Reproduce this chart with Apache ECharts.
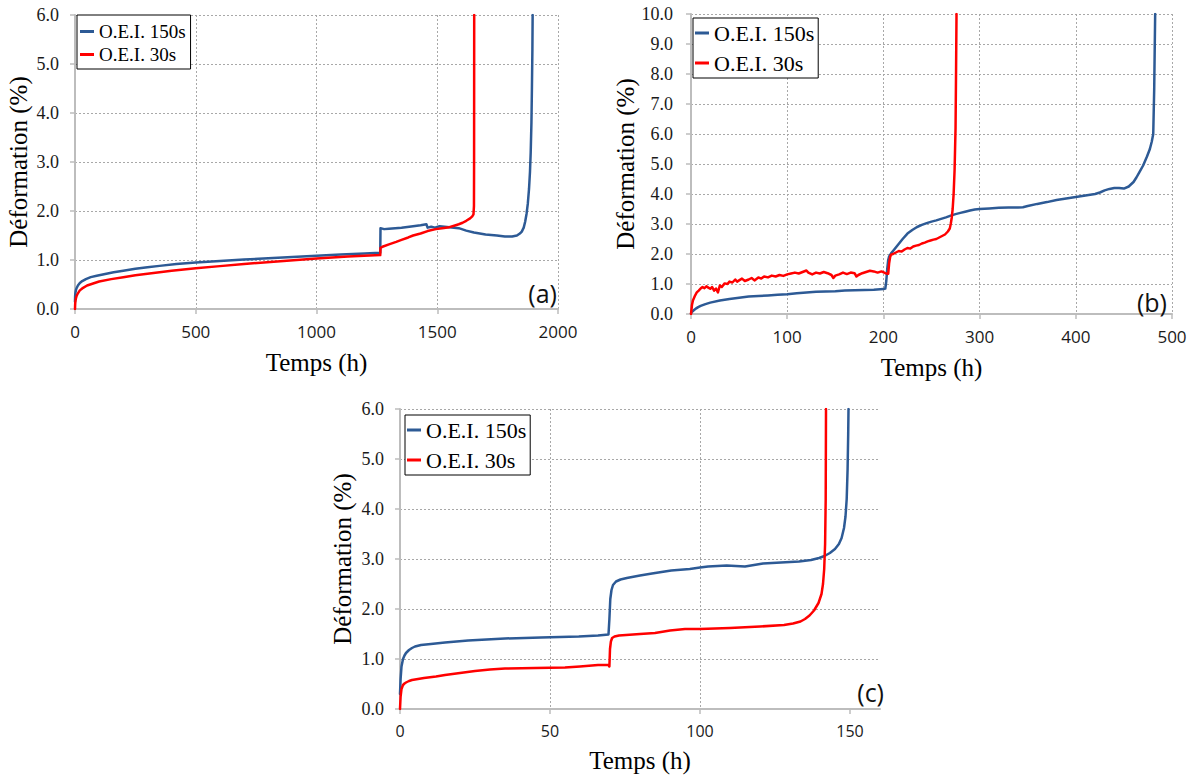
<!DOCTYPE html>
<html>
<head>
<meta charset="utf-8">
<script src="https://cdn.jsdelivr.net/npm/echarts@6/dist/echarts.min.js"></script>
<style>html,body{margin:0;padding:0;background:#fff;}#c{width:1193px;height:776px;}</style>
</head>
<body>
<div id="c"></div>
<script>
// ---------- DATA ----------
var seriesNames = ['O.E.I. 150s', 'O.E.I. 30s'];
var panelLabels = ['(a)', '(b)', '(c)'];
var xTitle = 'Temps (h)';
var yTitle = 'Déformation (%)';

// (a) [time h, strain %]
var aBlue = [[0,0.15],[0.5,0.25],[1,0.3],[2,0.34],[4,0.39],[7,0.43],[12,0.48],[20,0.53],[30,0.57],[45,0.61],[65,0.65],[90,0.68],[120,0.71],[160,0.75],[200,0.78],[250,0.82],[300,0.85],[350,0.88],[420,0.92],[500,0.95],[600,0.98],[700,1.01],[800,1.035],[900,1.06],[1000,1.085],[1100,1.11],[1200,1.135],[1264,1.15],
  [1265,1.65],[1280,1.63],[1300,1.64],[1352,1.66],[1400,1.69],[1431,1.71],[1455,1.73],[1460,1.66],[1475,1.68],[1490,1.66],[1510,1.69],[1550,1.67],[1589,1.65],[1620,1.6],[1652,1.56],[1700,1.52],[1747,1.5],[1780,1.48],[1810,1.48],[1830,1.5],[1842,1.54],[1850,1.58],[1858,1.66],[1864,1.78],[1870,1.95],[1875,2.15],[1880,2.45],[1884,2.8],[1887,3.2],[1890,3.8],[1892,4.5],[1894,5.3],[1895,6.0]];
var aRed = [[0,0],[0.5,0.08],[1,0.12],[2,0.17],[4,0.22],[7,0.27],[12,0.32],[20,0.38],[30,0.42],[50,0.48],[75,0.52],[100,0.56],[150,0.61],[200,0.65],[250,0.69],[300,0.72],[400,0.78],[500,0.83],[600,0.875],[700,0.92],[850,0.975],[1000,1.03],[1130,1.07],[1264,1.1],
  [1265,1.25],[1273,1.27],[1300,1.32],[1330,1.37],[1352,1.41],[1380,1.46],[1400,1.5],[1431,1.54],[1460,1.59],[1494,1.63],[1520,1.65],[1550,1.67],[1570,1.7],[1589,1.73],[1605,1.76],[1620,1.8],[1636,1.85],[1645,1.89],[1650,1.93],[1652,2.1],[1652.5,3.0],[1653,6.0]];

// (b)
var bBlue = [[0,0.02],[1,0.07],[2,0.1],[3.5,0.14],[5,0.18],[7.5,0.23],[10,0.27],[15,0.33],[20,0.38],[30,0.45],[40,0.5],[50,0.54],[60,0.58],[70,0.6],[80,0.62],[90,0.64],[100,0.66],[110,0.69],[120,0.72],[130,0.74],[140,0.75],[150,0.76],[160,0.78],[170,0.79],[180,0.8],[190,0.81],[200,0.83],[202,0.85],
  [203,1.1],[204,1.5],[205,1.8],[206,1.92],[208,2.02],[210,2.1],[215,2.3],[220,2.5],[225,2.68],[230,2.8],[235,2.9],[240,2.97],[245,3.03],[250,3.08],[255,3.12],[260,3.17],[265,3.22],[270,3.28],[275,3.33],[280,3.37],[285,3.41],[290,3.45],[295,3.48],[300,3.5],[310,3.52],[320,3.54],[330,3.55],[340,3.55],[345,3.56],[350,3.6],[360,3.67],[370,3.73],[380,3.8],[390,3.85],[400,3.9],[410,3.95],[420,4.0],[425,4.05],[430,4.12],[435,4.17],[440,4.2],[445,4.2],[450,4.18],[455,4.25],[460,4.4],[463,4.55],[466,4.72],[470,4.95],[474,5.25],[477,5.5],[479,5.75],[480.5,6.0],[481.5,7.5],[482.5,10]];
var bRed = [[0,0],[1,0.3],[2,0.45],[4,0.6],[6,0.72],[8,0.78],[10,0.85],[12,0.9],[14,0.86],[16,0.92],[18,0.88],[20,0.84],[22,0.9],[24,0.78],[26,0.85],[28,0.72],[30,0.95],[32,0.9],[35,1.02],[38,1.0],[40,1.08],[43,1.05],[46,1.15],[48,1.08],[50,1.12],[53,1.18],[56,1.1],[60,1.15],[63,1.2],[66,1.12],[70,1.22],[73,1.18],[76,1.25],[80,1.22],[84,1.28],[88,1.25],[92,1.3],[96,1.27],[100,1.32],[104,1.35],[108,1.38],[112,1.35],[116,1.4],[120,1.45],[122,1.38],[126,1.32],[130,1.38],[134,1.35],[138,1.4],[142,1.36],[146,1.3],[148,1.2],[150,1.28],[154,1.32],[158,1.38],[162,1.33],[166,1.38],[170,1.36],[172,1.25],[174,1.3],[178,1.36],[182,1.4],[186,1.44],[190,1.42],[194,1.38],[198,1.42],[202,1.36],[205,1.34],
  [206,1.7],[207,1.9],[208,1.98],[210,2.0],[213,2.05],[216,2.1],[219,2.08],[222,2.15],[225,2.2],[228,2.18],[231,2.25],[234,2.28],[237,2.3],[240,2.35],[243,2.38],[246,2.42],[249,2.45],[252,2.48],[255,2.5],[258,2.55],[261,2.6],[264,2.65],[267,2.75],[269,2.85],[270,3.0],[271,3.2],[272,3.5],[273,4.0],[274,4.8],[274.5,5.5],[275,6.2],[275.5,8],[276,10]];

// (c)
var cBlue = [[0,0.3],[0.2,0.6],[0.5,0.85],[1,1.0],[1.5,1.07],[2,1.12],[3,1.18],[4,1.22],[5,1.25],[7,1.28],[10.3,1.3],[15,1.33],[22.7,1.37],[35,1.41],[47,1.43],[59.6,1.45],[66,1.47],[69.5,1.49],
  [69.8,1.8],[70.1,2.2],[70.5,2.38],[71,2.48],[72,2.55],[73.5,2.59],[75.6,2.62],[80,2.67],[84,2.71],[90.4,2.77],[96.6,2.8],[100,2.83],[102.7,2.85],[108.9,2.87],[115,2.85],[118,2.88],[121,2.91],[127,2.93],[133,2.95],[137,2.98],[139.7,3.02],[141.5,3.06],[143.3,3.12],[145,3.2],[146.3,3.3],[147.2,3.42],[148,3.62],[148.5,3.85],[148.9,4.2],[149.2,4.8],[149.4,5.5],[149.5,6.0]];
var cRed = [[0,0],[0.2,0.25],[0.5,0.4],[1,0.48],[1.5,0.51],[2,0.53],[3,0.56],[4,0.58],[6,0.6],[8,0.62],[12,0.65],[15,0.68],[20,0.72],[25,0.76],[30,0.79],[35,0.81],[45,0.82],[55,0.83],[60,0.85],[66,0.88],[69.5,0.88],[69.8,0.85],
  [70,1.2],[70.3,1.35],[70.7,1.42],[71.5,1.45],[73,1.47],[80,1.5],[85,1.52],[90,1.57],[95,1.6],[100,1.6],[110,1.62],[120,1.65],[128,1.68],[131,1.71],[133.5,1.75],[135,1.8],[136.5,1.87],[138,1.97],[139.5,2.12],[140.5,2.3],[141,2.5],[141.4,2.8],[141.7,3.3],[141.9,4.2],[142,6.0]];

// ---------- STYLE ----------
var BLUE = '#2d5a95', RED = '#ff0000';
var serif = '"Liberation Serif", "Times New Roman", serif';
var sans = '"Open Sans", "Noto Sans", sans-serif';

function xAxis(gi, max, interval, nameGap, fs, hideMax) {
  var ax = {
    type: 'value', gridIndex: gi, min: 0, max: max, interval: interval,
    name: xTitle, nameLocation: 'middle', nameGap: nameGap,
    nameTextStyle: {fontFamily: serif, fontSize: 25, fontWeight: 'normal', color: '#000'},
    axisLine: {show: true, onZero: false, lineStyle: {color: '#bdbdbd', width: 2}},
    axisTick: {show: true, length: 5, lineStyle: {color: '#bdbdbd', width: 1.5}},
    axisLabel: {fontFamily: sans, fontSize: fs, color: '#1a1a1a', margin: 14,
      formatter: function (v) { return String(v); }},
    splitLine: {show: true, lineStyle: {color: '#a8a8a8', width: 1, type: [2, 2]}}
  };
  if (hideMax) {
    ax.axisLabel.customValues = [0, 50, 100, 150];
    ax.axisTick.customValues = [0, 50, 100, 150];
    ax.splitLine.showMaxLine = false;
  }
  return ax;
}
function yAxis(gi, max, nameGap, margin) {
  return {
    type: 'value', gridIndex: gi, min: 0, max: max, interval: 1,
    name: yTitle, nameLocation: 'middle', nameGap: nameGap,
    nameTextStyle: {fontFamily: serif, fontSize: 25, fontWeight: 'normal', color: '#000'},
    axisLine: {show: true, onZero: false, lineStyle: {color: '#bdbdbd', width: 2}},
    axisTick: {show: true, length: 5, lineStyle: {color: '#bdbdbd', width: 1.5}},
    axisLabel: {fontFamily: serif, fontSize: 18, color: '#1a1a1a', margin: margin,
      formatter: function (v) { return v.toFixed(1); }},
    splitLine: {show: true, lineStyle: {color: '#a8a8a8', width: 1, type: [2, 2]}}
  };
}
function line(name, data, color, i) {
  return {type: 'line', name: name, data: data, xAxisIndex: i, yAxisIndex: i,
    showSymbol: false, symbol: 'none', clip: true, animation: false,
    lineStyle: {color: color, width: 2.5, join: 'round', cap: 'round'}, itemStyle: {color: color}};
}
function legend(left, top, fs, lh, pad) {
  return {
    data: seriesNames, orient: 'vertical', left: left, top: top,
    padding: pad, itemGap: 0, itemWidth: 14, itemHeight: 3, icon: 'rect',
    backgroundColor: '#fff', borderColor: '#000', borderWidth: 1,
    textStyle: {fontFamily: serif, fontSize: fs, lineHeight: lh, color: '#000'},
    selectedMode: false
  };
}
function tag(text, x, y) {
  return {type: 'text', x: x, y: y, z: 100,
    style: {text: text, align: 'right', verticalAlign: 'middle',
      font: '25px ' + sans, fill: '#111'}};
}

var chart = echarts.init(document.getElementById('c'), null, {renderer: 'svg'});
chart.setOption({
  animation: false,
  backgroundColor: '#fff',
  grid: [
    {left: 75, top: 15, width: 483, height: 294},
    {left: 691, top: 14, width: 481, height: 300},
    {left: 400, top: 409, width: 480, height: 300}
  ],
  xAxis: [xAxis(0, 2000, 500, 41, 17, false), xAxis(1, 500, 100, 41, 17, false), xAxis(2, 160, 50, 39, 16, true)],
  yAxis: [yAxis(0, 6, 44, 16), yAxis(1, 10, 51, 18), yAxis(2, 6, 45, 16)],
  legend: [
    legend(77, 15, 19, 23, [5, 5, 3, 3]),
    legend(693, 18, 22, 30, [0, 4, 0, 2]),
    legend(405, 415, 22, 30, [0, 4, 0, 2])
  ],
  series: [
    line(seriesNames[0], aBlue, BLUE, 0), line(seriesNames[1], aRed, RED, 0),
    line(seriesNames[0], bBlue, BLUE, 1), line(seriesNames[1], bRed, RED, 1),
    line(seriesNames[0], cBlue, BLUE, 2), line(seriesNames[1], cRed, RED, 2)
  ],
  graphic: [tag(panelLabels[0], 557, 293), tag(panelLabels[1], 1167, 302), tag(panelLabels[2], 884, 692)]
});
</script>
</body>
</html>
